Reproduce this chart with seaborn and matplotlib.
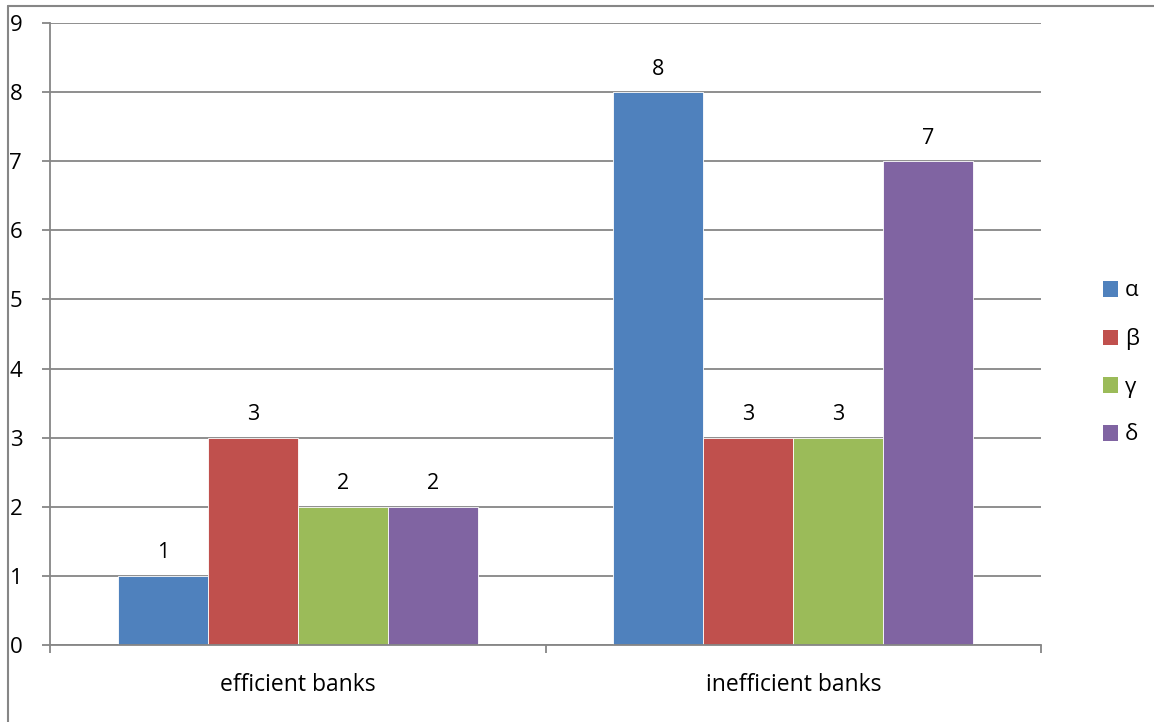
import matplotlib
matplotlib.use("Agg")
import matplotlib.pyplot as plt
from matplotlib.lines import Line2D
from matplotlib.patches import Patch
import pandas as pd
import seaborn as sns

# data
groups = ["efficient banks", "inefficient banks"]
series = ["α", "β", "γ", "δ"]
alpha_vals = [1, 8]
beta_vals = [3, 3]
gamma_vals = [2, 3]
delta_vals = [2, 7]
y_ticks = list(range(0, 10))

colors = ["#4F81BD", "#C0504D", "#9BBB59", "#8064A2"]
grid_col = "#868686"

rows = []
for name, vals in zip(series, [alpha_vals, beta_vals, gamma_vals, delta_vals]):
    for g, v in zip(groups, vals):
        rows.append({"group": g, "series": name, "value": v})
df = pd.DataFrame(rows)

sns.set_style("white")
plt.rcParams["font.family"] = ["Open Sans", "DejaVu Sans"]

fig = plt.figure(figsize=(11.54, 7.22), dpi=100)
ax = fig.add_axes([50 / 1154, 77 / 722, 991 / 1154, 622 / 722])

sns.barplot(data=df, x="group", y="value", hue="series", order=groups,
            hue_order=series, palette=colors, width=0.726, saturation=1,
            edgecolor="white", linewidth=0.6, legend=False, ax=ax)

for c in ax.containers:
    ax.bar_label(c, padding=9, fontsize=15.5, color="#000000")

ax.set_xlim(-0.5, 1.5)
ax.set_ylim(0, 9)
ax.set_yticks(y_ticks)
ax.yaxis.grid(True, color=grid_col, linewidth=1.3)
ax.set_axisbelow(True)
ax.set_xlabel("")
ax.set_ylabel("")

for s in ["top", "right"]:
    ax.spines[s].set_visible(False)
for s in ["left", "bottom"]:
    ax.spines[s].set_color(grid_col)
    ax.spines[s].set_linewidth(1.3)

# category boundary ticks like Excel
ax.set_xticks([-0.5, 0.5, 1.5], minor=True)
ax.tick_params(axis="x", which="minor", bottom=True, length=6, width=1.3,
               color=grid_col, direction="out")
ax.tick_params(axis="x", which="major", bottom=False, length=0, pad=20,
               labelsize=16.5, labelcolor="#000000")
ax.tick_params(axis="y", left=True, length=6, width=1.3, color=grid_col,
               direction="out", pad=14, labelsize=16, labelcolor="#000000")

# legend on the right
handles = [Patch(facecolor=c, edgecolor="none") for c in colors]
fig.legend(handles, series, loc="center left", bbox_to_anchor=(1094 / 1154, 359 / 722),
           frameon=False, fontsize=16, handlelength=0.7, handleheight=0.7,
           handletextpad=0.3, labelspacing=1.2, borderaxespad=0, labelcolor="#000000")

# chart area border (cropped at right and bottom)
fig.add_artist(Line2D([8 / 1154, 1], [1 - 6 / 722, 1 - 6 / 722], transform=fig.transFigure,
                      color=grid_col, linewidth=1.5))
fig.add_artist(Line2D([8 / 1154, 8 / 1154], [0, 1 - 6 / 722], transform=fig.transFigure,
                      color=grid_col, linewidth=1.5))

fig.savefig("out.png", dpi=100)
